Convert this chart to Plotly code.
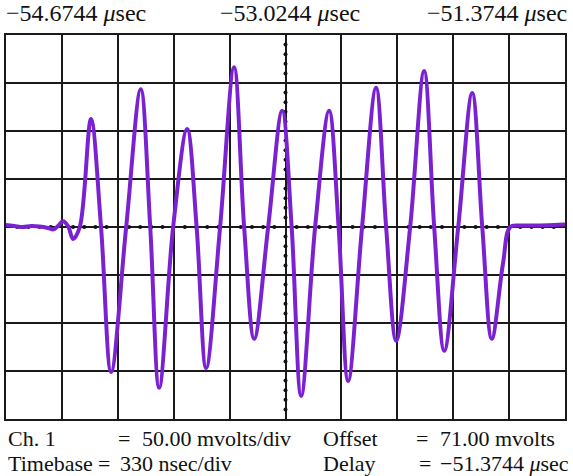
import numpy as np
import plotly.graph_objects as go

W, H = 573, 476

wave_x = [0.00, 0.15, 0.30, 0.45, 0.60, 0.75, 0.85, 0.93, 1.02, 1.11, 1.20, 1.32,
          1.52, 1.70, 1.88, 2.15, 2.41, 2.58, 2.74, 2.99, 3.24, 3.41, 3.58, 3.83,
          4.08, 4.26, 4.44, 4.69, 4.94, 5.11, 5.28, 5.53, 5.78, 5.95, 6.12, 6.37,
          6.62, 6.80, 6.98, 7.23, 7.48, 7.66, 7.84, 8.09, 8.34, 8.52, 8.69, 8.89,
          9.02, 9.20, 9.50, 9.80, 10.00]
wave_y = [0.04, 0.02, 0.00, 0.02, 0.01, -0.02, -0.05, 0.02, 0.12, 0.02, -0.25, 0.00,
          2.25, 0.00, -3.02, 0.00, 2.87, 0.00, -3.35, 0.00, 2.04, 0.00, -2.94, 0.00,
          3.33, 0.00, -2.33, 0.00, 2.42, 0.00, -3.52, 0.00, 2.42, 0.00, -3.21, 0.00,
          2.90, 0.00, -2.37, 0.00, 3.25, 0.00, -2.58, 0.00, 2.79, 0.00, -2.33, -0.77,
          0.00, 0.03, 0.03, 0.04, 0.05]

# Graticule
x_divs = 10
y_divs = 8
sub_per_div = 5

top_labels = ["\u221254.6744 <i>\u03bc</i>sec", "\u221253.0244 <i>\u03bc</i>sec", "\u221251.3744 <i>\u03bc</i>sec"]

# plot area in pixels
L, R, T, B = 6, 565, 35, 419

fig = go.Figure()

# centre-line sub-division dots
sx = [k / sub_per_div for k in range(0, x_divs * sub_per_div + 1) if k % sub_per_div != 0]
sy = [k / sub_per_div - y_divs / 2 for k in range(0, y_divs * sub_per_div + 1) if k % sub_per_div != 0]
fig.add_trace(go.Scatter(x=sx, y=[0] * len(sx), mode="markers",
                         marker=dict(color="#111", size=4), hoverinfo="skip", showlegend=False))
fig.add_trace(go.Scatter(x=[x_divs / 2] * len(sy), y=sy, mode="markers",
                         marker=dict(color="#111", size=4), hoverinfo="skip", showlegend=False))

fig.add_trace(go.Scatter(x=wave_x, y=wave_y, mode="lines",
                         line=dict(color="#7a22d2", width=4, shape="spline", smoothing=1.0),
                         showlegend=False))

ax = dict(showgrid=True, gridcolor="#1a1a1a", gridwidth=2, dtick=1, zeroline=False,
          showticklabels=False, ticks="", showline=True, linecolor="#1a1a1a",
          linewidth=2, mirror=True, fixedrange=True)

fig.update_layout(
    width=W, height=H,
    margin=dict(l=0, r=0, t=0, b=0),
    paper_bgcolor="white", plot_bgcolor="white",
    xaxis=dict(ax, range=[0, x_divs], domain=[L / W, R / W], tick0=0),
    yaxis=dict(ax, range=[-y_divs / 2, y_divs / 2], domain=[1 - B / H, 1 - T / H], tick0=0),
    font=dict(family="Liberation Serif", color="#111"),
)

def px(x):
    return x / W

def py(y):
    return 1 - y / H

def add_text(text, x, y, anchor="left", size=22):
    fig.add_annotation(text=text, x=px(x), y=py(y), xref="paper", yref="paper",
                       xanchor=anchor, yanchor="middle", showarrow=False,
                       font=dict(size=size, family="Liberation Serif", color="#111"))

add_text(top_labels[0], 4, 13, "left", 24)
add_text(top_labels[1], 290, 13, "center", 24)
add_text(top_labels[2], 569, 13, "right", 24)

add_text("Ch. 1", 6, 438)
add_text("=", 116, 438)
add_text("50.00 mvolts/div", 140, 438)
add_text("Timebase", 6, 463)
add_text("=", 96, 463)
add_text("330 nsec/div", 118, 463)
add_text("Offset", 321, 438)
add_text("=", 414, 438)
add_text("71.00 mvolts", 438, 438)
add_text("Delay", 321, 463)
add_text("=", 417, 463)
add_text("\u221251.3744 <i>\u03bc</i>sec", 438, 463)

fig.write_html("out.html", config={"displayModeBar": False},
               post_script="document.body.style.margin='0';document.body.style.overflow='hidden';")
